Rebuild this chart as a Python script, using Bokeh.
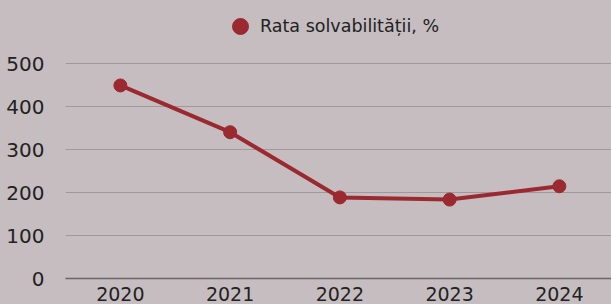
from bokeh.plotting import figure
from bokeh.models import Range1d, Legend, LegendItem, FixedTicker
from bokeh.embed import file_html
from bokeh.resources import INLINE

years = [2020, 2021, 2022, 2023, 2024]
solvency = [450, 341, 189, 184, 215]
y_ticks = [0, 100, 200, 300, 400, 500]
series_name = "Rata solvabilității, %"

BG = "#c6bdc0"
RED = "#9a2a30"
FONT = "DejaVu Sans"

p = figure(width=611, height=304, output_backend="svg", toolbar_location=None,
           x_range=Range1d(2019.5, 2024.475), y_range=Range1d(0, 648),
           min_border_left=65, min_border_right=0, min_border_top=0, min_border_bottom=26)
p.background_fill_color = None
p.border_fill_color = None
p.outline_line_color = None

line_r = p.line(years, solvency, line_color=RED, line_width=4)
pts = p.scatter(years, solvency, size=13, fill_color=RED, line_color=RED)

p.xgrid.visible = False
p.ygrid.ticker = FixedTicker(ticks=y_ticks)
p.ygrid.grid_line_color = "#9f999b"
p.ygrid.grid_line_width = 1

p.yaxis.ticker = FixedTicker(ticks=y_ticks)
p.yaxis.axis_line_color = None
p.yaxis.major_tick_line_color = None
p.yaxis.minor_tick_line_color = None
p.yaxis.major_label_standoff = 15
p.yaxis.major_label_text_font = FONT
p.yaxis.major_label_text_font_size = "20px"
p.yaxis.major_label_text_color = "#222222"

p.xaxis.ticker = FixedTicker(ticks=years)
p.xaxis.axis_line_color = "#6a6667"
p.xaxis.axis_line_width = 1.5
p.xaxis.major_tick_line_color = None
p.xaxis.minor_tick_line_color = None
p.xaxis.major_label_standoff = 2
p.xaxis.major_label_text_font = FONT
p.xaxis.major_label_text_font_size = "19px"
p.xaxis.major_label_text_color = "#222222"

legend = Legend(items=[LegendItem(label=series_name, renderers=[pts])],
                location=(155, 232), orientation="horizontal",
                background_fill_alpha=0, border_line_color=None,
                glyph_width=40, glyph_height=40, label_standoff=0,
                label_text_font=FONT, label_text_font_size="17.5px",
                label_text_color="#222222", padding=0, margin=0)
p.add_layout(legend, "center")

html = file_html(p, INLINE)
i = html.rfind("<body")
j = html.find(">", i)
style = ' style="margin:0;overflow:hidden;background:%s"' % BG
html = html[:j] + style + html[j:]
open("out.html", "w").write(html)
